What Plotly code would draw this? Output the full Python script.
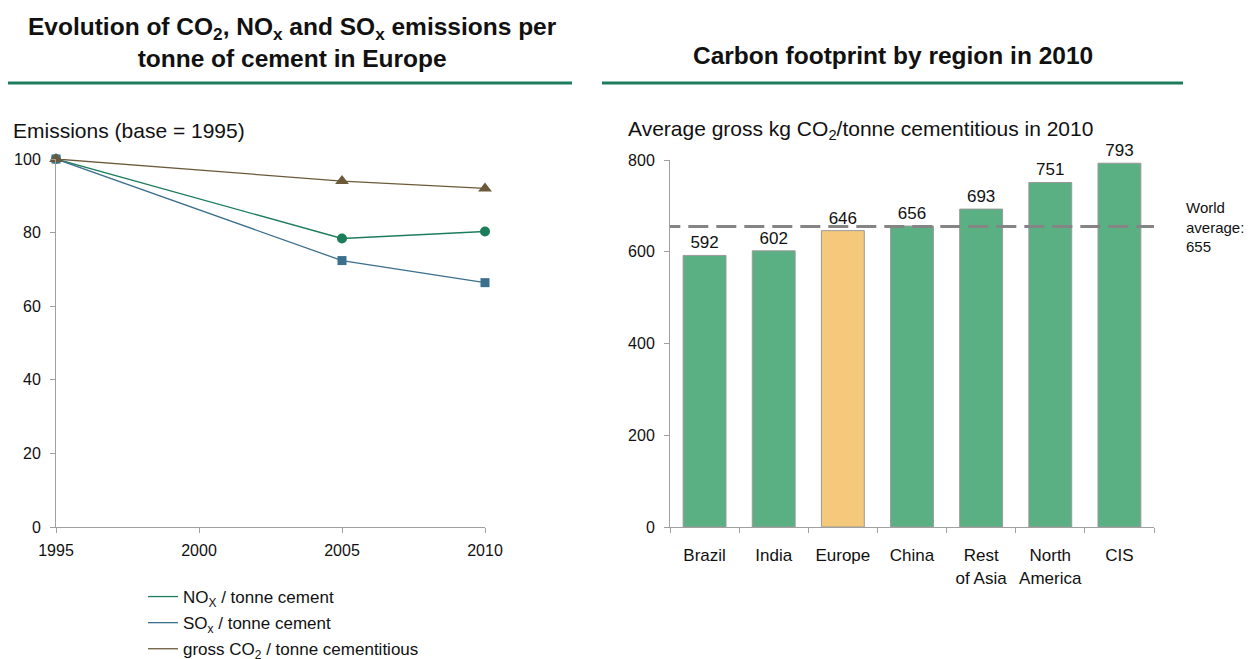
import plotly.graph_objects as go

# ---- data ----
years = [1995, 2005, 2010]
nox = [100, 78.4, 80.3]
sox = [100, 72.4, 66.4]
co2 = [100, 94.0, 92.0]

regions = ["Brazil", "India", "Europe", "China", "Rest of Asia", "North America", "CIS"]
region_labels = ["Brazil", "India", "Europe", "China", "Rest<br>of Asia", "North<br>America", "CIS"]
footprint = [592, 602, 646, 656, 693, 751, 793]
world_avg = 655

W, H = 1252, 659
FONT = "Liberation Sans, Arial, sans-serif"
GREEN = "#1d7d5a"
BLUE = "#3b6f8e"
BROWN = "#6b5a3a"
AXC = "#a0a0a0"

def px_x(p):
    return p / W

def px_y(p):
    return 1 - p / H

fig = go.Figure()

# left chart: legend lines
for name, vals, col in [
    ("NO<sub>X</sub> / tonne cement", nox, GREEN),
    ("SO<sub>x</sub> / tonne cement", sox, BLUE),
    ("gross CO<sub>2</sub> / tonne cementitious", co2, BROWN),
]:
    fig.add_trace(go.Scatter(x=years, y=vals, mode="lines", name=name,
                             line=dict(color=col, width=1.3), legendgroup=name,
                             xaxis="x", yaxis="y", cliponaxis=False))
# markers
for vals, col, sym, sz in [(nox, GREEN, "circle", 10), (sox, BLUE, "square", 9), (co2, BROWN, "triangle-up", 12)]:
    fig.add_trace(go.Scatter(x=years, y=vals, mode="markers", showlegend=False,
                             marker=dict(color=col, symbol=sym, size=sz, line=dict(width=0)),
                             xaxis="x", yaxis="y", cliponaxis=False, hoverinfo="skip"))

# right chart: bars
bar_colors = ["#f5c97b" if r == "Europe" else "#5aaf83" for r in regions]
fig.add_trace(go.Bar(x=regions, y=footprint, marker=dict(color=bar_colors, line=dict(color="#9a9a9a", width=1)),
                     width=0.62, text=[str(v) for v in footprint], textposition="outside",
                     textfont=dict(family=FONT, size=17, color="#111"), cliponaxis=False,
                     showlegend=False, xaxis="x2", yaxis="y2"))

# triangle marker for world average
fig.add_trace(go.Scatter(x=[1.035], y=[world_avg], mode="markers", showlegend=False,
                         marker=dict(symbol="triangle-left", size=19, color="#808080"),
                         xaxis="x3", yaxis="y2", cliponaxis=False, hoverinfo="skip"))

ax_common = dict(showline=True, linecolor=AXC, linewidth=1, ticks="outside", ticklen=5,
                 tickcolor=AXC, showgrid=False, zeroline=False, automargin=False)
tf16 = dict(family=FONT, size=16, color="#111")
tf17 = dict(family=FONT, size=17, color="#111")

fig.update_layout(
    width=W, height=H, margin=dict(l=0, r=0, t=0, b=0, autoexpand=False),
    paper_bgcolor="white", plot_bgcolor="white",
    font=dict(family=FONT, color="#111", size=16),
    xaxis=dict(domain=[px_x(56), px_x(485)], range=[1995, 2010], tickvals=[1995, 2000, 2005, 2010],
               anchor="y", tickfont=tf16, ticklabelstandoff=4, tickangle=0, **ax_common),
    yaxis=dict(domain=[px_y(527), px_y(159)], range=[0, 100], dtick=20, anchor="x",
               tickfont=tf16, ticklabelstandoff=6, **ax_common),
    xaxis2=dict(domain=[px_x(670), px_x(1154)], type="category", tickson="boundaries",
                tickvals=regions, ticktext=region_labels, anchor="y2", tickfont=tf17,
                ticklabelstandoff=13, tickangle=0, **ax_common),
    yaxis2=dict(domain=[px_y(527), px_y(160)], range=[0, 800], dtick=200, anchor="x2",
                tickfont=tf16, ticklabelstandoff=6, **ax_common),
    xaxis3=dict(domain=[px_x(670), px_x(1154)], range=[0, 1], overlaying="x2", visible=False, anchor="y2"),
    legend=dict(x=px_x(143), y=px_y(579), xanchor="left", yanchor="top",
                font=dict(family=FONT, size=17, color="#111"), tracegroupgap=1,
                bgcolor="rgba(0,0,0,0)"),
    showlegend=True,
)

# world average dashed line
fig.add_shape(type="line", xref="x3", yref="y2", x0=-0.02, x1=1.0, y0=world_avg, y1=world_avg,
              line=dict(color="#858585", width=3, dash="20px,8px"))

# title rules
fig.add_shape(type="line", xref="paper", yref="paper", x0=px_x(8), x1=px_x(572), y0=px_y(83), y1=px_y(83),
              line=dict(color=GREEN, width=3))
fig.add_shape(type="line", xref="paper", yref="paper", x0=px_x(602), x1=px_x(1183), y0=px_y(83), y1=px_y(83),
              line=dict(color=GREEN, width=3))

annots = [
    dict(x=px_x(292), y=px_y(42), text="<b>Evolution of CO<sub>2</sub>, NO<sub>x</sub> and SO<sub>x</sub> emissions per<br>tonne of cement in Europe</b>",
         font=dict(size=24.5), xanchor="center", yanchor="middle", align="center"),
    dict(x=px_x(893), y=px_y(55), text="<b>Carbon footprint by region in 2010</b>",
         font=dict(size=24.5), xanchor="center", yanchor="middle"),
    dict(x=px_x(11), y=px_y(130), text="Emissions (base = 1995)", font=dict(size=21),
         xanchor="left", yanchor="middle"),
    dict(x=px_x(626), y=px_y(130), text="Average gross kg CO<sub>2</sub>/tonne cementitious in 2010", font=dict(size=21),
         xanchor="left", yanchor="middle"),
    dict(x=px_x(1184), y=px_y(227), text="World<br>average:<br>655", font=dict(size=15),
         xanchor="left", yanchor="middle", align="left"),
]
for a in annots:
    a.update(xref="paper", yref="paper", showarrow=False)
    a["font"].update(family=FONT, color="#111")
    fig.add_annotation(**a)

fig.write_html("out.html", config={"displayModeBar": False},
               post_script="document.body.style.margin='0px';")
